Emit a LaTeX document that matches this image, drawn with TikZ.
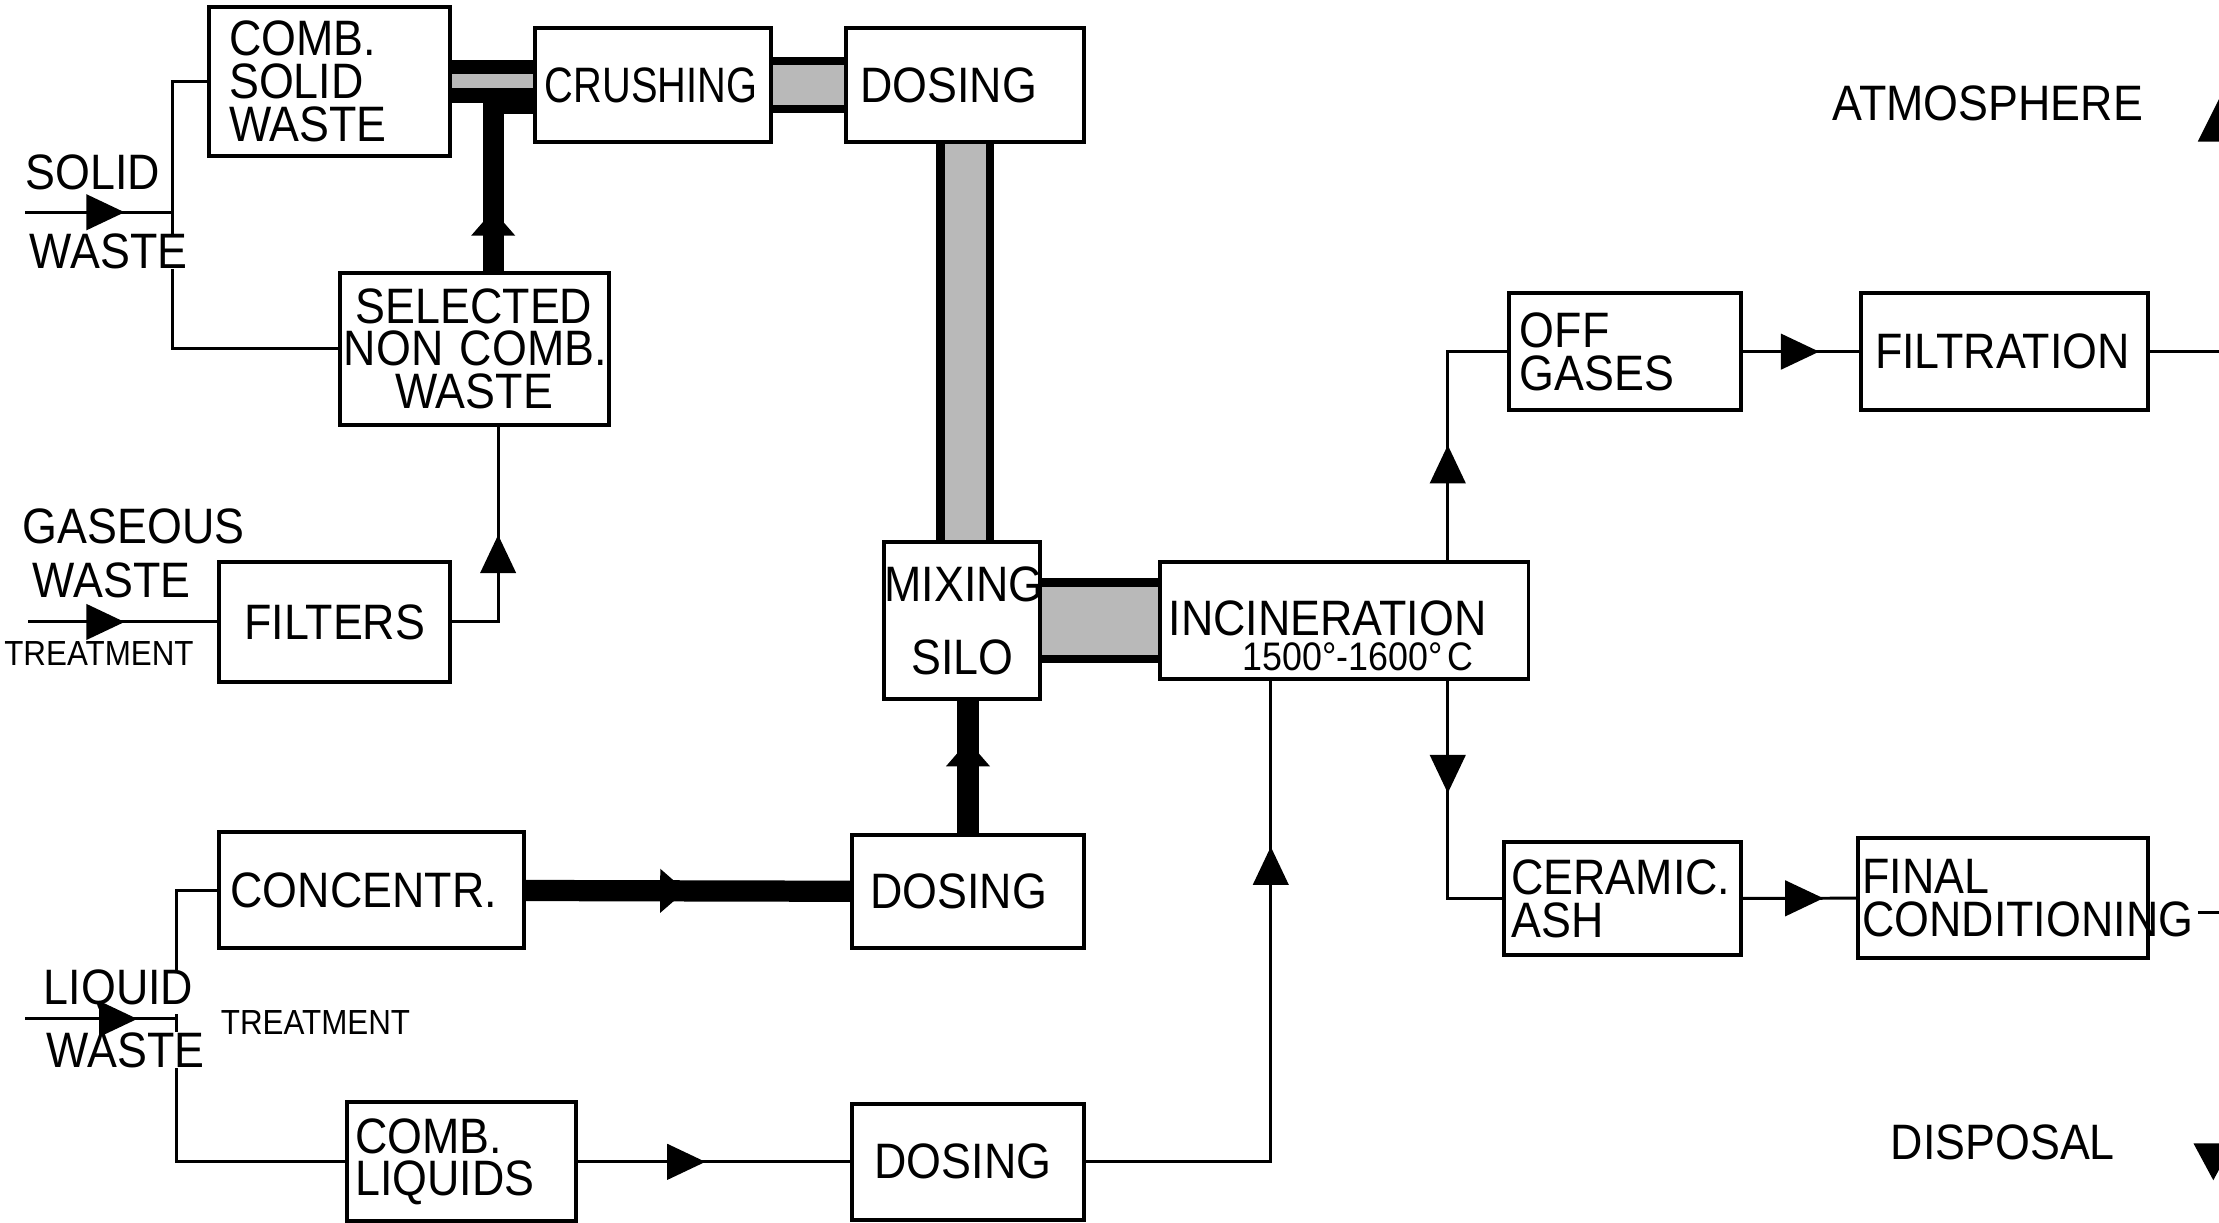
\documentclass[tikz,border=0pt]{standalone}
\usepackage{fontspec}
\setmainfont[FakeStretch=0.9]{Liberation Sans}
\newfontfamily\condfont[FakeStretch=0.8]{Liberation Sans}
\usetikzlibrary{arrows.meta,decorations.markings}

\uchyph=0
\hyphenpenalty=10000
\newcommand{\boxfont}{\fontsize{10}{8.6}\selectfont}
\newcommand{\smallfont}{\fontsize{7}{7}\selectfont}

\tikzset{
	box/.style={draw, line width=0.8pt, font=\boxfont, align=left, inner ysep=0pt},
	lbl/.style={font=\boxfont, fill=white, inner sep=0pt, anchor=base west},
	midarrow/.style={postaction={decorate}, decoration={markings,
		mark=at position #1 with {\arrow{Triangle[length=0.27cm,width=0.25cm]}}}},
	bararrow/.style={postaction={decorate}, decoration={markings,
		mark=at position #1 with {\arrow{Triangle[length=0.18cm,width=0.3cm]}}}},
	bar/.style={line width=0.15cm},
	band/.style={line width=0.06cm, double=gray!55, double distance=#1},
}

\begin{document}
\begin{tikzpicture}[x=0.01cm, y=-0.01cm, line width=0.6pt]
\useasboundingbox (0,0) rectangle (1568,864);

% solid waste line
\node at (233,57.5)[box, minimum height=1.05cm, text width=1.42cm, inner xsep=0.14cm](comb){COMB.\\SOLID\\WASTE};
\node at (461.5,60)[box, minimum height=0.8cm, text width=1.53cm, inner xsep=0.07cm](crush){\condfont CRUSHING};
\node at (682,60)[box, minimum height=0.8cm, text width=1.48cm, inner xsep=0.10cm](dose1){DOSING};
\node at (335,246.5)[box, align=center, minimum height=1.07cm, text width=1.84cm, inner xsep=0.03cm](sel){SELECTED\\NON~COMB.\\WASTE};
\node at (236.5,439.5)[box, align=center, minimum height=0.85cm, text width=1.53cm, inner xsep=0.05cm](filt){FILTERS};
\node at (680,438.5)[box, align=center, minimum height=1.11cm, text width=1.10cm, inner xsep=0cm](mix){MIXING\\[6pt]SILO};
\node at (950,438.5)[box, minimum height=0.83cm, text width=2.48cm, inner xsep=0.06cm](inc){\rule{0pt}{13pt}INCINERATION\\[-1.5pt]\hspace*{0.52cm}{\fontsize{8}{8}\selectfont 1500°-1600°\kern1pt C}};

% liquid waste line
\node at (262.5,629)[box, minimum height=0.82cm, text width=1.99cm, inner xsep=0.08cm](conc){CONCENTR.};
\node at (684,630)[box, minimum height=0.8cm, text width=1.38cm, inner xsep=0.13cm](dose2){DOSING};
\node at (326,821)[box, minimum height=0.84cm, text width=1.50cm, inner xsep=0.06cm](liq){COMB.\\LIQUIDS};
\node at (684,821)[box, minimum height=0.82cm, text width=1.32cm, inner xsep=0.16cm](dose3){DOSING};

% off gases and ash
\node at (1148,248.5)[box, minimum height=0.83cm, text width=1.48cm, inner xsep=0.08cm](offg){OFF\\GASES};
\node at (1416.5,248.5)[box, minimum height=0.83cm, text width=1.83cm, inner xsep=0.10cm](filtr){FILTRATION};
\node at (1146.5,635)[box, minimum height=0.8cm, text width=1.57cm, inner xsep=0.05cm](cer){CERAMIC.\\ASH};
\node at (1415.5,634.5)[box, minimum height=0.85cm, text width=1.99cm, inner xsep=0.03cm](fin){FINAL\\CONDITIONING};

\coordinate (swin) at (18,150);
\coordinate (swj) at (122,150);
\coordinate (gwin) at (20,439.5);
\coordinate (gj) at (352,439.5);
\coordinate (lwin) at (18,720);
\coordinate (lwj) at (125,720);
\coordinate (selup) at (348.5,73);
\coordinate (atm) at (1568,248.5);
\coordinate (finout) at (1553,645);
\coordinate (dispout) at (1568,645);

% thin lines
\draw (comb.west) -| (swj) |- (sel.west);
\draw[midarrow=0.94cm] (filt.east) -- (gj) -- (gj |- sel.south);
\draw (conc.west) -| (lwj) |- (liq.west);
\draw[midarrow=0.9cm] (liq) -- (dose3);
\draw[midarrow=3.53cm] (dose3.east) -| ([xshift=-0.52cm]inc.south);
\draw[midarrow=0.81cm] ([xshift=0.73cm]inc.north) |- (offg.west);
\draw[midarrow=0.79cm] ([xshift=0.73cm]inc.south) |- (cer.west);
\draw[midarrow=0.54cm] (offg) -- (filtr);
\draw[midarrow=0.57cm] (cer) -- (fin);
\draw (filtr) -- (atm);
\draw (finout) -- (dispout);

% free labels
\node at (17,134)[lbl](solid){SOLID};
\node at (20,190)[lbl](swaste){WASTE};
\node at (15,384)[lbl](gas){GASEOUS};
\node at (22,422)[lbl](gwaste){WASTE};
\node at (2,470)[lbl, font=\smallfont](gtreat){TREATMENT};
\node at (30,710)[lbl](liquid){LIQUID};
\node at (32,754)[lbl](lwaste){WASTE};
\node at (155,731)[lbl, font=\smallfont](ltreat){TREATMENT};
\node at (1294,85)[lbl](atmos){ATMOSPHERE};
\node at (1335,819)[lbl](disp){DISPOSAL};

% inputs
\draw[midarrow=0.7cm] (swin) -- (swj);
\draw[midarrow=0.68cm] (gwin) -- (filt.west);
\draw[midarrow=0.79cm] (lwin) -- (lwj);

% bands
\draw[band=0.10cm, line width=0.10cm] (comb.east) -- (comb.east -| crush.west);
\draw[band=0.28cm] (crush) -- (dose1);
\draw[band=0.29cm] (dose1.south) -- (dose1.south |- mix.north);
\draw[band=0.48cm] (mix.east) -- (mix.east -| inc.west);

% bars
\draw[bar, bararrow=0.43cm] (sel.north -| selup) -- (selup) -- (selup -| crush.west);
\draw[bar, bararrow=1.13cm] (conc) -- (dose2);
\draw[bar, bararrow=0.65cm] (dose2.north) -- (dose2.north |- mix.south);

% arrows at the edge
\fill (1553,100) -- (1568,70) -- (1583,100) -- cycle;
\fill (1550,808) -- (1578,808) -- (1564,834) -- cycle;
\end{tikzpicture}
\end{document}
